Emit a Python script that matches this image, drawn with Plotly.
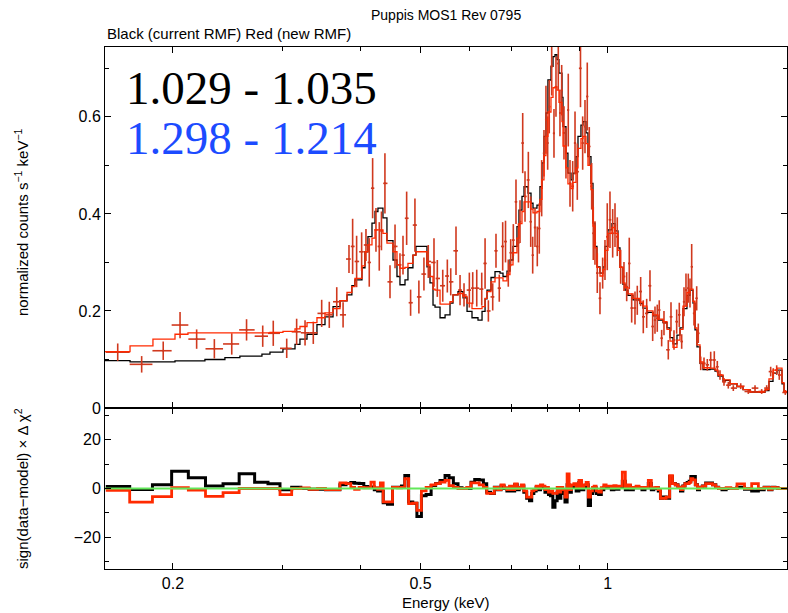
import numpy as np
import plotly.graph_objects as go

# ---------------- data ----------------
model_edges = [0.1555,0.1706,0.1857,0.2015,0.2114,0.2251,0.2424,0.2562,0.2780,0.2864,
               0.3005,0.3142,0.3200,0.3285,0.3408,0.3511,0.3617,0.3712,0.3809,0.3878,
               0.3922,0.4026,0.4071,0.4116,0.4178,0.4225,0.4271,0.4351,0.4416,0.4516,
               0.4583,0.4634,0.4721,0.4773,0.4862,0.4916,0.5121,0.5179,0.5237,0.5276,
               0.5375,0.5476,0.5577,0.5639,0.5744,0.5853,0.5940,0.6050,0.6186,0.6279,
               0.6350,0.6396,0.6491,0.6588,0.6711,0.6786,0.6887,0.6964,0.7042,0.7146,
               0.7199,0.7280,0.7335,0.7444,0.7527,0.7583,0.7695,0.7781,0.7839,0.7897,
               0.7955,0.8014,0.8105,0.8166,0.8226,0.8287,0.8348,0.8441,0.8473,0.8567,
               0.8630,0.8728,0.8793,0.8891,0.8957,0.9056,0.9124,0.9225,0.9294,0.9398,
               0.9468,0.9538,0.9608,0.9716,0.9825,0.9898,1.0007,1.0158,1.0272,1.0386,
               1.0463,1.0580,1.0659,1.0777,1.0980,1.1267,1.1393,1.1562,1.1823,1.2043,
               1.2269,1.2451,1.2591,1.2732,1.2921,1.3066,1.3212,1.3408,1.3559,1.3711,
               1.3813,1.3914,1.4071,1.4229,1.4601,1.4874,1.5039,1.5322,1.5724,1.6136,
               1.6500,1.6933,1.7569,1.7898,1.8163,1.8436,1.8710,1.9061,1.9203,1.9417]

model_black = [0.0976,0.095,0.095,0.097,0.097,0.100,0.104,0.107,0.111,0.115,
               0.122,0.131,0.142,0.152,0.172,0.188,0.209,0.221,0.233,0.252,
               0.264,0.289,0.322,0.353,0.381,0.405,0.412,0.392,0.345,0.305,
               0.271,0.254,0.264,0.289,0.315,0.333,0.291,0.258,0.212,0.208,
               0.186,0.192,0.216,0.233,0.240,0.227,0.199,0.186,0.181,0.199,
               0.225,0.243,0.269,0.281,0.278,0.271,0.282,0.305,0.333,0.374,
               0.408,0.436,0.456,0.443,0.422,0.412,0.418,0.456,0.505,0.560,
               0.608,0.676,0.704,0.724,0.728,0.718,0.690,0.640,0.580,0.525,
               0.484,0.470,0.484,0.518,0.560,0.583,0.590,0.567,0.518,0.463,
               0.381,0.333,0.291,0.278,0.291,0.333,0.367,0.380,0.365,0.330,
               0.290,0.255,0.243,0.232,0.223,0.215,0.206,0.197,0.190,0.181,
               0.176,0.165,0.145,0.132,0.150,0.165,0.205,0.232,0.243,0.216,
               0.161,0.126,0.092,0.079,0.080,0.076,0.066,0.057,0.050,0.044,
               0.038,0.033,0.032,0.036,0.055,0.072,0.078,0.050,0.033]

model_red = [0.116,0.128,0.142,0.152,0.155,0.155,0.155,0.155,0.155,0.156,
             0.158,0.163,0.168,0.176,0.186,0.196,0.205,0.221,0.238,0.250,
             0.267,0.293,0.322,0.336,0.350,0.367,0.367,0.360,0.340,0.322,
             0.295,0.288,0.290,0.298,0.315,0.322,0.295,0.271,0.245,0.243,
             0.214,0.214,0.219,0.233,0.236,0.230,0.216,0.205,0.205,0.209,
             0.226,0.240,0.260,0.268,0.268,0.262,0.275,0.295,0.320,0.350,
             0.380,0.405,0.425,0.425,0.410,0.402,0.405,0.430,0.470,0.520,
             0.560,0.610,0.640,0.660,0.662,0.655,0.630,0.590,0.540,0.495,
             0.462,0.452,0.465,0.495,0.535,0.555,0.560,0.545,0.500,0.450,
             0.375,0.330,0.290,0.272,0.285,0.325,0.360,0.372,0.360,0.325,
             0.290,0.258,0.248,0.235,0.226,0.218,0.210,0.200,0.192,0.183,
             0.178,0.162,0.138,0.125,0.140,0.162,0.210,0.238,0.245,0.220,
             0.165,0.130,0.095,0.083,0.082,0.078,0.068,0.058,0.050,0.044,
             0.038,0.033,0.033,0.038,0.060,0.078,0.082,0.052,0.034]

data_energy = [0.1630,0.1781,0.1929,0.2053,0.2183,0.2331,0.2486,0.2626,0.2788,0.2899,
               0.3047,0.3161,0.3261,0.3362,0.3468,0.3567,0.3667,0.3754,0.3837,0.3889,
               0.3947,0.4021,0.4086,0.4136,0.4188,0.4240,0.4292,0.4327,0.4383,0.4466,
               0.4550,0.4634,0.4686,0.4750,0.4820,0.4898,0.4970,0.5064,0.5146,0.5256,
               0.5321,0.5429,0.5522,0.5592,0.5702,0.5788,0.5874,0.5991,0.6066,0.6157,
               0.6272,0.6350,0.6428,0.6532,0.6612,0.6693,0.6778,0.6849,0.6920,0.6982,
               0.7050,0.7120,0.7186,0.7227,0.7299,0.7362,0.7453,0.7519,0.7574,0.7639,
               0.7704,0.7761,0.7830,0.7897,0.7955,0.8006,0.8053,0.8126,0.8195,0.8256,
               0.8327,0.8379,0.8432,0.8504,0.8567,0.8640,0.8696,0.8783,0.8859,0.8934,
               0.9040,0.9113,0.9192,0.9270,0.9339,0.9422,0.9478,0.9538,0.9620,0.9716,
               0.9813,0.9898,0.9982,1.0083,1.0184,1.0272,1.0359,1.0490,1.0619,1.0726,
               1.0829,1.0926,1.1061,1.1155,1.1296,1.1406,1.1550,1.1692,1.1809,1.1911,
               1.2012,1.2101,1.2209,1.2314,1.2512,1.2638,1.2779,1.2907,1.3032,1.3148,
               1.3261,1.3359,1.3474,1.3559,1.3644,1.3761,1.3899,1.3982,1.4108,1.4281,
               1.4457,1.4639,1.4835,1.5001,1.5152,1.5378,1.5625,1.5917,1.6359,1.6826,
               1.7250,1.7680,1.8010,1.8279,1.8456,1.8690,1.8870,1.9296]

data_counts = [0.115,0.090,0.118,0.171,0.142,0.122,0.132,0.161,0.148,0.154,
               0.123,0.157,0.155,0.155,0.195,0.192,0.219,0.192,0.307,0.333,
               0.302,0.322,0.336,0.300,0.453,0.367,0.333,0.365,0.463,0.260,
               0.333,0.295,0.315,0.391,0.217,0.377,0.229,0.276,0.302,0.300,
               0.267,0.252,0.272,0.260,0.324,0.243,0.233,0.243,0.247,0.247,
               0.245,0.298,0.200,0.229,0.324,0.247,0.333,0.343,0.278,0.320,
               0.346,0.425,0.340,0.384,0.546,0.436,0.470,0.384,0.315,0.372,
               0.333,0.370,0.453,0.525,0.594,0.546,0.621,0.704,0.566,0.662,
               0.710,0.608,0.655,0.567,0.525,0.614,0.463,0.457,0.546,0.487,
               0.700,0.546,0.580,0.642,0.539,0.457,0.360,0.340,0.278,0.226,
               0.278,0.305,0.353,0.388,0.360,0.377,0.353,0.291,0.271,0.250,
               0.298,0.206,0.206,0.222,0.240,0.188,0.195,0.252,0.168,0.181,
               0.185,0.202,0.144,0.175,0.120,0.188,0.140,0.178,0.192,0.137,
               0.219,0.243,0.247,0.237,0.291,0.195,0.226,0.154,0.092,0.092,
               0.089,0.099,0.099,0.085,0.068,0.054,0.047,0.041,0.045,0.034,
               0.041,0.034,0.041,0.075,0.072,0.078,0.068,0.032]

data_error = [0.018,0.017,0.019,0.027,0.020,0.020,0.022,0.022,0.022,0.026,
              0.020,0.027,0.026,0.023,0.028,0.027,0.030,0.026,0.029,0.057,
              0.053,0.040,0.033,0.050,0.062,0.045,0.050,0.040,0.062,0.034,
              0.045,0.024,0.040,0.055,0.027,0.055,0.034,0.034,0.034,0.050,
              0.038,0.033,0.034,0.028,0.050,0.031,0.024,0.036,0.033,0.038,
              0.034,0.052,0.022,0.028,0.035,0.028,0.050,0.043,0.028,0.028,
              0.033,0.046,0.040,0.044,0.062,0.052,0.058,0.052,0.038,0.040,
              0.041,0.052,0.058,0.048,0.070,0.055,0.055,0.060,0.050,0.062,
              0.055,0.048,0.052,0.055,0.052,0.075,0.048,0.052,0.065,0.058,
              0.080,0.055,0.055,0.070,0.040,0.048,0.055,0.045,0.041,0.033,
              0.032,0.041,0.069,0.058,0.050,0.045,0.040,0.035,0.030,0.030,
              0.053,0.030,0.034,0.030,0.030,0.034,0.030,0.032,0.030,0.028,
              0.028,0.020,0.017,0.025,0.020,0.030,0.020,0.025,0.025,0.015,
              0.030,0.034,0.030,0.030,0.047,0.025,0.025,0.020,0.014,0.012,
              0.012,0.017,0.018,0.012,0.010,0.008,0.007,0.006,0.006,0.005,
              0.006,0.005,0.006,0.010,0.010,0.010,0.010,0.005]

resid_black = [0.8,-0.4,1.5,7.1,4.4,1.0,1.9,6.0,2.6,1.9,
               -0.5,0.5,0.0,-0.3,-0.3,-0.5,-0.5,1.5,2.0,2.5,
               2.2,2.0,0.8,0.5,0.6,-0.5,-1.0,-1.0,-5.8,-6.5,
               0.5,0.5,1.0,5.3,-5.5,-6.0,-11.5,-3.0,-2.5,1.2,
               2.0,3.3,5.3,4.4,1.9,0.3,0.0,0.0,2.6,3.7,
               3.5,1.9,-1.5,-2.0,0.5,-0.5,1.0,0.0,-1.0,0.5,
               -1.0,1.5,-0.5,0.3,1.0,-1.5,-4.0,-5.0,-2.0,-1.0,
               0.5,-0.5,0.5,0.3,-1.5,-0.5,-2.5,-3.0,-7.7,-5.0,
               -1.5,-4.0,-1.0,-2.0,-5.5,1.5,-1.5,0.5,1.0,-1.0,
               2.5,-0.5,0.5,1.5,-7.0,-2.0,-1.0,0.3,-2.0,-2.5,
               -0.5,0.5,0.3,0.5,-0.5,0.5,-0.3,0.5,3.0,-0.5,
               1.0,-0.5,0.3,0.5,0.3,-0.5,0.3,2.0,-0.5,0.0,
               0.3,-1.0,-4.0,-3.5,-4.0,4.9,2.0,1.5,0.5,-1.0,
               1.0,2.0,2.5,3.0,4.9,4.9,1.5,-0.5,0.5,1.0,
               2.3,2.3,1.5,0.5,0.0,-0.5,0.0,0.0,0.5,-0.3,
               -1.0,-0.5,0.5,-0.5,0.5,0.3,0.0,0.0]

resid_red = [-0.8,-5.6,-3.3,0.3,-0.7,-3.2,-1.7,0.0,0.0,0.0,
             -2.5,0.0,0.2,-0.3,0.0,-0.5,-0.5,2.3,2.0,0.5,
             -0.3,0.5,0.3,0.3,2.6,0.3,-0.3,2.3,-5.5,-5.5,
             0.5,0.3,0.5,4.0,-6.2,-6.0,-9.0,-1.0,0.5,1.5,
             2.0,2.6,3.3,1.2,0.5,0.0,0.0,0.5,2.3,2.3,
             1.5,0.5,-2.0,-2.0,0.5,-0.5,1.5,0.3,-0.5,1.0,
             -0.5,1.9,0.0,0.5,1.5,-1.0,-3.5,-3.5,-1.0,-0.5,
             1.0,0.3,1.5,1.0,-0.5,0.5,-1.5,-1.0,-2.0,-2.0,
             0.5,-1.5,0.5,-0.5,-3.5,6.0,-0.5,1.5,2.0,0.5,
             3.3,0.5,1.5,2.5,-3.5,-1.0,0.5,1.0,-1.0,-1.5,
             0.3,1.5,1.0,1.0,0.3,1.2,0.5,1.0,6.7,0.5,
             1.5,0.3,0.5,1.0,0.5,0.3,0.5,3.3,0.3,0.3,
             0.5,-0.5,-4.0,-4.0,-3.5,5.3,2.0,1.5,0.5,-0.5,
             1.0,2.0,2.0,2.5,4.0,3.5,1.5,0.0,0.5,1.0,
             2.0,2.0,1.5,0.5,0.0,0.0,0.3,0.0,1.9,0.0,
             2.0,0.0,0.5,-0.3,0.5,0.3,0.0,0.0]

x_major = [0.2, 0.5, 1, 2]
x_major_text = ["0.2", "0.5", "1", "2"]
x_minor = [0.3, 0.4, 0.6, 0.7, 0.8, 0.9]
energy_range = [0.1555, 1.9417]

title_text = "Puppis MOS1 Rev 0795"
subtitle_text = "Black (current RMF) Red (new RMF)"
ratio_black = "1.029 - 1.035"
ratio_blue = "1.298 - 1.214"

# ---------------- derived geometry ----------------
c = np.array(data_energy)
mids = np.sqrt(c[:-1] * c[1:])
data_edges = np.concatenate([[c[0] ** 2 / mids[0]], mids, [c[-1] ** 2 / mids[-1]]])
err_plus = data_edges[1:] - c
err_minus = c - data_edges[:-1]


def step(edges, vals):
    return list(edges), list(vals) + [vals[-1]]


BLACK = "#000000"
RED = "#ff2a00"
DATA = "#d0391e"
GREEN = "#62e85a"
BLUE = "#1c4bff"
FONT = "Liberation Sans, Arial, Helvetica, sans-serif"

fig = go.Figure()

# top panel
bx, by = step(model_edges, model_black)
fig.add_trace(go.Scatter(x=bx, y=by, mode="lines", line=dict(color=BLACK, width=1.3, shape="hv"),
                         xaxis="x", yaxis="y", hoverinfo="skip"))
fig.add_trace(go.Scatter(x=data_energy, y=data_counts, mode="markers",
                         marker=dict(color=DATA, size=2),
                         error_y=dict(type="data", array=data_error, color=DATA, thickness=1.6, width=0),
                         error_x=dict(type="data", symmetric=False, array=list(err_plus),
                                      arrayminus=list(err_minus), color=DATA, thickness=1.6, width=0),
                         xaxis="x", yaxis="y"))
rx, ry = step(model_edges, model_red)
fig.add_trace(go.Scatter(x=rx, y=ry, mode="lines", line=dict(color=RED, width=1.3, shape="hv"),
                         xaxis="x", yaxis="y", hoverinfo="skip"))

# bottom panel
kx, ky = step(data_edges, resid_black)
fig.add_trace(go.Scatter(x=kx, y=ky, mode="lines", line=dict(color=BLACK, width=3, shape="hv"),
                         xaxis="x2", yaxis="y2"))
qx, qy = step(data_edges, resid_red)
fig.add_trace(go.Scatter(x=qx, y=qy, mode="lines", line=dict(color=RED, width=2.8, shape="hv"),
                         xaxis="x2", yaxis="y2"))
fig.add_trace(go.Scatter(x=energy_range, y=[0, 0], mode="lines", line=dict(color=GREEN, width=1.8),
                         xaxis="x2", yaxis="y2"))

split = 161 / 522
logr = [np.log10(energy_range[0]), np.log10(energy_range[1])]
axcommon = dict(showline=True, linecolor="black", linewidth=1, mirror="ticks", ticks="inside",
                tickcolor="black", showgrid=False, zeroline=False,
                tickfont=dict(family=FONT, size=16, color="black"))

fig.update_layout(
    width=788, height=613,
    margin=dict(l=105, r=1, t=47, b=44),
    paper_bgcolor="white", plot_bgcolor="white",
    showlegend=False,
    xaxis=dict(domain=[0, 1], anchor="y", type="log", range=logr, tickvals=x_major,
               ticktext=x_major_text, showticklabels=False, ticklen=6,
               minor=dict(tickvals=x_minor, ticks="inside", ticklen=4, tickcolor="black", showgrid=False),
               **axcommon),
    xaxis2=dict(domain=[0, 1], anchor="y2", type="log", range=logr, matches="x", tickvals=x_major,
                ticktext=x_major_text, ticklen=6,
                minor=dict(tickvals=x_minor, ticks="inside", ticklen=4, tickcolor="black", showgrid=False),
                **axcommon),
    yaxis=dict(domain=[split, 1], anchor="x", range=[0, 0.744], tickvals=[0, 0.2, 0.4, 0.6],
               ticktext=["0", "0.2", "0.4", "0.6"], ticklen=6,
               minor=dict(tickvals=[0.1, 0.3, 0.5, 0.7], ticks="inside", ticklen=4, tickcolor="black",
                          showgrid=False),
               **axcommon),
    yaxis2=dict(domain=[0, split], anchor="x2", range=[-33, 33], tickvals=[-20, 0, 20],
                ticktext=["\u221220", "0", "20"], ticklen=6,
                minor=dict(tickvals=[-30, -10, 10, 30], ticks="inside", ticklen=4, tickcolor="black",
                           showgrid=False),
                **axcommon),
)

ann = [
    dict(text=title_text, x=0.5, y=(569 - 15) / 522, xanchor="center", yanchor="middle",
         font=dict(family=FONT, size=14, color="black")),
    dict(text=subtitle_text, x=0.0, y=(569 - 33) / 522, xanchor="left", yanchor="middle",
         font=dict(family=FONT, size=15, color="black")),
    dict(text="normalized counts s<sup>\u22121</sup> keV<sup>\u22121</sup>", x=(21 - 105) / 682,
         y=(569 - 222) / 522, xanchor="center", yanchor="middle", textangle=-90,
         font=dict(family=FONT, size=15, color="black")),
    dict(text="sign(data\u2212model) \u00d7 \u0394 \u03c7<sup>2</sup>", x=(21 - 105) / 682,
         y=(569 - 489) / 522, xanchor="center", yanchor="middle", textangle=-90,
         font=dict(family=FONT, size=15, color="black")),
    dict(text="Energy (keV)", x=0.5, y=(569 - 602) / 522, xanchor="center", yanchor="middle",
         font=dict(family=FONT, size=15, color="black")),
    dict(text=ratio_black, x=(124 - 105) / 682, y=(569 - 88) / 522, xanchor="left", yanchor="middle",
         font=dict(family="Liberation Serif, Times New Roman, serif", size=47, color="black")),
    dict(text=ratio_blue, x=(124 - 105) / 682, y=(569 - 138) / 522, xanchor="left", yanchor="middle",
         font=dict(family="Liberation Serif, Times New Roman, serif", size=47, color=BLUE)),
]
for a in ann:
    a.update(xref="paper", yref="paper", showarrow=False)
fig.update_layout(annotations=ann)

fig.write_html("out.html", config={"displayModeBar": False})
with open("out.html", "r", encoding="utf-8") as fh:
    html = fh.read()
html = html.replace("<head>", "<head><style>html,body{margin:0;padding:0;overflow:hidden;}</style>", 1)
with open("out.html", "w", encoding="utf-8") as fh:
    fh.write(html)
